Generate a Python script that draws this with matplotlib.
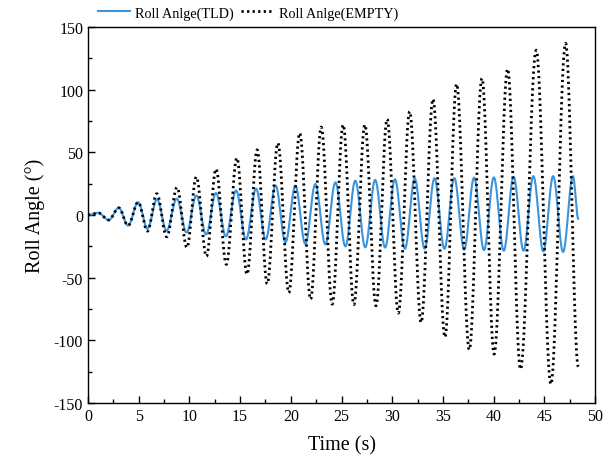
import numpy as np
import matplotlib
matplotlib.use("Agg")
import matplotlib.pyplot as plt

# Extreme points (time s, roll angle deg)
TLD_t = [0, 0.99, 2.04, 3.03, 3.95, 4.94, 5.86, 6.8, 7.75, 8.75, 9.72, 10.68, 11.65, 12.62,
         13.6, 14.6, 15.58, 16.57, 17.52, 18.5, 19.47, 20.45, 21.43, 22.42, 23.4, 24.4,
         25.38, 26.36, 27.34, 28.32, 29.3, 30.27, 31.25, 32.22, 33.2, 34.17, 35.15, 36.12,
         37.1, 38.07, 39.05, 40.02, 41.0, 41.97, 42.95, 43.92, 44.9, 45.87, 46.85, 47.82, 48.35]
TLD_v = [0, 1.7, -4, 5.7, -8.4, 10.2, -11, 12.5, -12.5, 13, -14, 15.5, -15.5, 17.5, -17,
         19.5, -19.5, 21, -19.5, 23.4, -21.8, 23.4, -23.1, 24.7, -23.5, 26, -25, 27.4,
         -25.8, 28, -26, 28.5, -27, 29, -27, 29.3, -27, 29.5, -27.5, 29.8, -28, 30, -28.5,
         30.5, -28.5, 31, -29, 31, -29.5, 31, -3]

EMP_t = [0, 0.99, 2.04, 3.03, 3.95, 4.94, 5.86, 6.78, 7.76, 8.78, 9.75, 10.68, 11.68, 12.62,
         13.64, 14.68, 15.68, 16.68, 17.67, 18.72, 19.8, 20.88, 21.95, 23.0, 24.08, 25.16,
         26.22, 27.3, 28.4, 29.5, 30.6, 31.72, 32.85, 34.02, 35.2, 36.35, 37.6, 38.85,
         40.05, 41.38, 42.65, 44.2, 45.65, 47.1, 48.35]
EMP_v = [0, 1.7, -4, 5.7, -8.4, 10.2, -12.9, 17, -17.4, 22, -26, 30.4, -33, 36.7, -39.4,
         45.5, -47.3, 52, -55, 57.4, -62, 65.4, -67.3, 70.2, -71.2, 72, -71.5, 72, -72.5,
         76.5, -78.3, 82.6, -85.8, 92.5, -97.5, 104.5, -107.5, 109, -111, 116.5, -123,
         131.5, -135, 137, -121]

labels = ["Roll Anlge(TLD)", "Roll Anlge(EMPTY)"]


def smooth(tk, vk, n=40):
    """Render smooth half-cosine arcs between successive extremes."""
    ts, vs = [], []
    for i in range(len(tk) - 1):
        s = np.linspace(0, 1, n, endpoint=False)
        ts.append(tk[i] + (tk[i + 1] - tk[i]) * s)
        vs.append(vk[i] + (vk[i + 1] - vk[i]) * (1 - np.cos(np.pi * s)) / 2)
    ts.append([tk[-1]])
    vs.append([vk[-1]])
    return np.concatenate(ts), np.concatenate(vs)


plt.rcParams['font.family'] = ['Liberation Serif', 'DejaVu Serif']
plt.rcParams['axes.unicode_minus'] = False

fig = plt.figure(figsize=(6.05, 4.6), dpi=100)
ax = fig.add_axes([0.1455, 0.1217, 0.838, 0.8175])

tx, vx = smooth(TLD_t, TLD_v)
ex, evv = smooth(EMP_t, EMP_v)
l1, = ax.plot(tx, vx, color='#3b94dc', lw=1.5, label=labels[0], zorder=2)
l2, = ax.plot(ex, evv, color='black', lw=2.0, linestyle=(0, (0.8, 1.2)),
              label=labels[1], zorder=3)

ax.set_xlim(0, 50)
ax.set_ylim(-150, 150)
ax.set_xticks(np.arange(0, 51, 5))
ax.set_xticks(np.arange(2.5, 50, 5), minor=True)
ax.set_yticks(np.arange(-150, 151, 50))
ax.set_yticks(np.arange(-125, 150, 50), minor=True)
ax.tick_params(which='both', direction='in', top=False, right=False, labelsize=11.5)
ax.tick_params(which='major', length=5, width=1)
ax.tick_params(which='minor', length=3, width=1)
for sp in ax.spines.values():
    sp.set_linewidth(1.0)

ax.set_xlabel("Time (s)", fontsize=14.5, labelpad=8)
ax.set_ylabel("Roll Angle (°)", fontsize=14.5, labelpad=6)

fig.legend(handles=[l1, l2], labels=labels, loc='center left',
           bbox_to_anchor=(0.152, 0.97), ncol=2, frameon=False, fontsize=10.2,
           handlelength=2.3, columnspacing=0.5, handletextpad=0.35, borderaxespad=0)

fig.savefig("out.png", dpi=100)
